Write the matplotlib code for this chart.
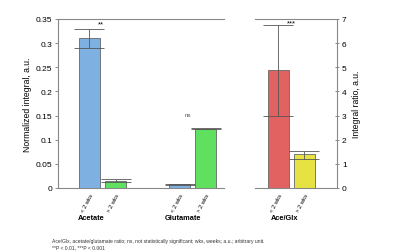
import matplotlib
matplotlib.use("Agg")
import matplotlib.pyplot as plt

# Data
groups_left = ["Acetate", "Glutamate"]
tick_labels = ["< 2 wks", "> 2 wks"]
acetate_vals = [0.31, 0.015]
acetate_lo = [0.29, 0.013]
acetate_hi = [0.33, 0.018]
glutamate_vals = [0.008, 0.123]
glutamate_lo = [0.007, 0.122]
glutamate_hi = [0.009, 0.124]
ratio_vals = [4.9, 1.4]
ratio_lo = [3.0, 1.2]
ratio_hi = [6.75, 1.55]
colors_left = ["#7eb1e2", "#5fe05f"]
colors_right = ["#e26262", "#e6e244"]
sig_left = ["**", "ns"]
sig_right = "***"

plt.rcParams['font.family'] = ['Liberation Sans', 'DejaVu Sans']

fig = plt.figure(figsize=(4.0, 2.53), dpi=100)
axL = fig.add_axes([0.145, 0.253, 0.415, 0.668])
axR = fig.add_axes([0.6375, 0.253, 0.205, 0.668])

ecol = "#555555"
W = 0.81
posL = [[0, 1], [3.46, 4.46]]
valsL = [acetate_vals, glutamate_vals]
loL = [acetate_lo, glutamate_lo]
hiL = [acetate_hi, glutamate_hi]
for g in range(2):
    for i in range(2):
        x = posL[g][i]
        v = valsL[g][i]
        axL.bar(x, v, width=W, color=colors_left[i], edgecolor="#666666", linewidth=0.6, zorder=2)
        axL.errorbar(x, v, yerr=[[v - loL[g][i]], [hiL[g][i] - v]], fmt='none',
                     ecolor=ecol, elinewidth=0.6, capsize=11, capthick=0.6, zorder=3)
axL.set_xlim(-1.21, 5.17)
axL.set_ylim(0, 0.35)
axL.set_yticks([0, 0.05, 0.1, 0.15, 0.2, 0.25, 0.3, 0.35])
axL.set_yticklabels(["0", "0.05", "0.1", "0.15", "0.2", "0.25", "0.3", "0.35"])
axL.set_xticks([p for pr in posL for p in pr])
axL.set_xticklabels(tick_labels * 2, rotation=62, ha='right', va='top',
                    rotation_mode='anchor', fontsize=4.2)
axL.tick_params(axis='x', length=0, pad=3)
axL.tick_params(axis='y', labelsize=6, length=2, width=0.6, color="#777777", pad=2)
axL.set_ylabel("Normalized integral, a.u.", fontsize=6.2, labelpad=3)
for s in ["right"]:
    axL.spines[s].set_visible(False)
for s in ["left", "top", "bottom"]:
    axL.spines[s].set_color("#888888")
    axL.spines[s].set_linewidth(0.8)
axL.text(0.45, 0.34, sig_left[0], ha='center', va='center', fontsize=5.5)
axL.text(3.8, 0.153, sig_left[1], ha='center', va='center', fontsize=4.5, color="#555555")

posR = [0, 1]
for i in range(2):
    v = ratio_vals[i]
    axR.bar(posR[i], v, width=W, color=colors_right[i], edgecolor="#666666", linewidth=0.6, zorder=2)
    axR.errorbar(posR[i], v, yerr=[[v - ratio_lo[i]], [ratio_hi[i] - v]], fmt='none',
                 ecolor=ecol, elinewidth=0.6, capsize=11, capthick=0.6, zorder=3)
axR.set_xlim(-0.90, 2.25)
axR.set_ylim(0, 7)
axR.yaxis.tick_right()
axR.yaxis.set_label_position("right")
axR.set_yticks(range(0, 8))
axR.set_xticks(posR)
axR.set_xticklabels(tick_labels, rotation=62, ha='right', va='top',
                    rotation_mode='anchor', fontsize=4.2)
axR.tick_params(axis='x', length=0, pad=3)
axR.tick_params(axis='y', labelsize=6, length=3, width=0.6, color="#777777", direction='inout', pad=2)
axR.set_ylabel("Integral ratio, a.u.", fontsize=6.2, labelpad=4)
axR.spines["left"].set_visible(False)
for s in ["right", "top", "bottom"]:
    axR.spines[s].set_color("#888888")
    axR.spines[s].set_linewidth(0.8)
axR.text(0.5, 6.85, sig_right, ha='center', va='center', fontsize=5.5)

# Category labels
fig.text(91 / 400, 1 - 219 / 253, groups_left[0], ha='center', va='center', fontsize=5.3, fontweight='bold')
fig.text(183 / 400, 1 - 219 / 253, groups_left[1], ha='center', va='center', fontsize=5.3, fontweight='bold')
fig.text(285 / 400, 1 - 219 / 253, "Ace/Glx", ha='center', va='center', fontsize=5.3, fontweight='bold')

fig.text(52 / 400, 1 - 241 / 253,
         "Ace/Glx, acetate/glutamate ratio; ns, not statistically significant; wks, weeks; a.u.; arbitrary unit.",
         ha='left', va='center', fontsize=3.6, color="#333333")
fig.text(52 / 400, 1 - 248 / 253, "**P < 0.01, ***P < 0.001",
         ha='left', va='center', fontsize=3.6, color="#333333")

fig.savefig("out.png", dpi=100)
